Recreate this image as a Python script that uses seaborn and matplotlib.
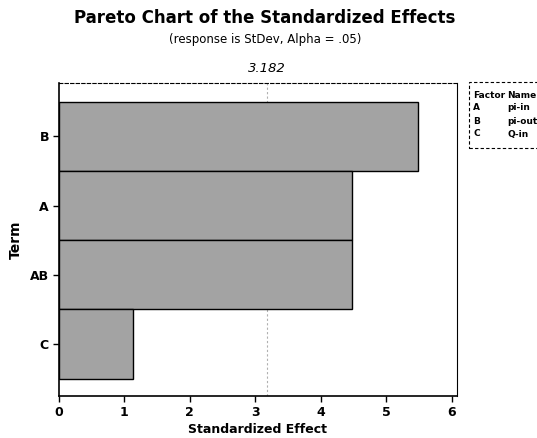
import matplotlib
matplotlib.use("Agg")
import matplotlib.pyplot as plt
import seaborn as sns
import pandas as pd
from matplotlib.patches import Rectangle

# datos
terms = ["B", "A", "AB", "C"]
effects = [5.49, 4.48, 4.48, 1.13]
ref_value = 3.182
factors = ["A", "B", "C"]
factor_names = ["pi-in", "pi-out", "Q-in"]

df = pd.DataFrame({"Term": terms, "Effect": effects})

sns.set_theme(style="white")
plt.rcParams["font.family"] = ["DejaVu Sans"]
plt.rcParams["text.color"] = "black"
plt.rcParams["axes.labelcolor"] = "black"
plt.rcParams["xtick.color"] = "black"
plt.rcParams["ytick.color"] = "black"

W, H = 537, 438
fig = plt.figure(figsize=(W / 100, H / 100), dpi=100)
ax = fig.add_axes([58.7 / W, 1 - 396 / H, (457 - 58.7) / W, (396 - 83) / H])

sns.barplot(data=df, x="Effect", y="Term", orient="h", width=1.0,
            color="#a3a3a3", saturation=1, edgecolor="black", linewidth=1.0, ax=ax)

# linea de referencia (t critico)
ax.axvline(ref_value, color="#b0b0b0", linestyle=(0, (2, 2)), linewidth=0.8, zorder=0)
ax.set_xlim(0, 6.08)
ax.set_ylim(3.75, -0.77)
ax.set_xticks([0, 1, 2, 3, 4, 5, 6])

for s in ax.spines.values():
    s.set_color("black")
    s.set_linewidth(0.8)
ax.spines["left"].set_linewidth(1.2)
ax.spines["bottom"].set_linewidth(1.2)
ax.spines["top"].set_linestyle((0, (3, 2)))

ax.tick_params(axis="both", direction="out", length=4, width=1, color="black",
               labelsize=9, pad=3, bottom=True, left=True)
for lbl in ax.get_xticklabels() + ax.get_yticklabels():
    lbl.set_fontweight("bold")

ax.set_xlabel("Standardized Effect", fontsize=9, fontweight="bold", labelpad=3)
ax.set_ylabel("Term", fontsize=10, fontweight="bold", labelpad=5)

fig.text(265 / W, 1 - 18 / H, "Pareto Chart of the Standardized Effects",
         ha="center", va="center", fontsize=12, fontweight="bold")
fig.text(265 / W, 1 - 40 / H, "(response is StDev, Alpha = .05)",
         ha="center", va="center", fontsize=8.5)
ax.text(ref_value, 1.025, "3.182", transform=ax.get_xaxis_transform(),
        ha="center", va="bottom", fontsize=9.5, style="italic")

# leyenda de factores
fig.patches.append(Rectangle((469 / W, 1 - 148 / H), 80 / W, 66 / H, transform=fig.transFigure,
                             fill=False, edgecolor="black", linewidth=0.8, linestyle=(0, (3, 2))))
fig.text(473 / W, 1 - 95 / H, "Factor", fontsize=6.5, fontweight="bold", va="center")
fig.text(507 / W, 1 - 95 / H, "Name", fontsize=6.5, fontweight="bold", va="center")
for i, (f, n) in enumerate(zip(factors, factor_names)):
    y = 1 - (108 + i * 13) / H
    fig.text(473 / W, y, f, fontsize=6.5, fontweight="bold", va="center")
    fig.text(507 / W, y, n, fontsize=6.5, fontweight="bold", va="center")

fig.savefig("out.png", dpi=100)
